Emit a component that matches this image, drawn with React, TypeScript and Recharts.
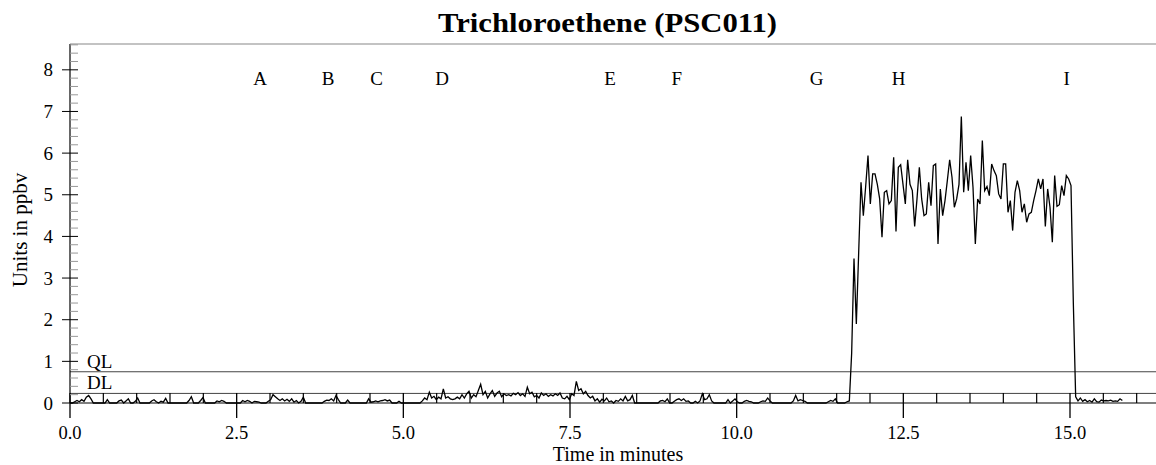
import React from "react";
import { LineChart, Line, XAxis, YAxis, ReferenceLine, ReferenceDot } from "recharts";

const SERIF = '"Liberation Serif", "DejaVu Serif", serif';

// one reading every 0.035 min
const SAMPLE_STEP = 0.035;

// Trichloroethene in ppbv, rows of 20 readings (0.7 min per row)
const baselineReadings: number[] = [
  0, 0, 0.03, 0.06, 0.03, 0.08, 0.04, 0.14, 0.18, 0.1, 0, 0, 0, 0, 0, 0, 0.08, 0, 0, 0,
  0, 0.05, 0.07, 0, 0.05, 0.1, 0, 0, 0.04, 0.12, 0, 0, 0, 0, 0, 0.05, 0.08, 0.03, 0, 0.04,
  0.02, 0.11, 0, 0, 0, 0, 0, 0, 0, 0, 0, 0.06, 0.15, 0, 0, 0, 0.06, 0.13, 0, 0,
  0, 0, 0, 0.05, 0.03, 0.06, 0.04, 0, 0, 0, 0, 0, 0, 0, 0.06, 0.03, 0.06, 0.04, 0, 0.04,
  0.03, 0.02, 0, 0, 0, 0.04, 0.08, 0.2, 0.15, 0.1, 0.06, 0.1, 0.05, 0.09, 0.04, 0.1, 0.02, 0.06, 0, 0.04,
  0.14, 0, 0, 0, 0, 0, 0, 0, 0, 0.04, 0.07, 0.06, 0.1, 0.05, 0.18, 0.08, 0, 0, 0, 0.07,
  0, 0, 0, 0, 0, 0, 0, 0, 0.1, 0.02, 0.03, 0.05, 0.03, 0.05, 0.06, 0.08, 0.05, 0.07, 0, 0,
  0, 0.04, 0, 0, 0, 0, 0, 0, 0, 0, 0, 0.05, 0.12, 0.08, 0.26, 0.12, 0.16, 0.08, 0.14, 0.1,
  0.34, 0.12, 0.15, 0.1, 0.08, 0.1, 0.14, 0.1, 0.2, 0.12, 0.22, 0.28, 0.12, 0.2, 0.15, 0.3, 0.45, 0.2, 0.28, 0.12,
  0.22, 0.3, 0.16, 0.24, 0.28, 0.15, 0.22, 0.18, 0.2, 0.17, 0.23, 0.2, 0.25, 0.18, 0.22, 0.16, 0.38, 0.22, 0.26, 0.15,
  0.18, 0.12, 0.24, 0.18, 0.22, 0.16, 0.2, 0.17, 0.22, 0.18, 0.24, 0.12, 0.1, 0.16, 0.08, 0.22, 0.18, 0.52, 0.3, 0.34,
  0.22, 0.28, 0.18, 0.12, 0.16, 0.05, 0.1, 0.02, 0.09, 0.05, 0.12, 0.03, 0.05, 0, 0.06, 0.04, 0.1, 0.05, 0.16, 0.05,
  0.08, 0.18, 0, 0, 0, 0, 0, 0, 0, 0, 0, 0, 0, 0.05, 0.06, 0.03, 0.1, 0, 0, 0.04,
  0.08, 0.1, 0.06, 0.1, 0.04, 0.05, 0, 0, 0.04, 0, 0.05, 0.22, 0.08, 0.1, 0.2, 0.05, 0, 0, 0, 0,
  0, 0, 0.08, 0, 0.05, 0.1, 0.03, 0, 0, 0.04, 0.06, 0.04, 0.03, 0, 0, 0, 0.03, 0.05, 0.04, 0.12,
  0.05, 0, 0, 0, 0, 0, 0, 0, 0, 0, 0.05, 0.18, 0.05, 0.08, 0.06, 0.04, 0, 0, 0, 0,
  0, 0, 0, 0, 0, 0.03, 0.06, 0.04, 0.1, 0, 0, 0, 0, 0.03,
];

// exposure window, starting at 11.69 min
const exposureReadings: number[] = [
  0.05, 1.2, 3.47, 1.9, 3.6, 5.3, 4.5, 5.2, 5.94, 4.78, 5.5, 5.5, 5.25, 4.9, 3.98, 5.06,
  5.1, 4.78, 4.86, 5.9, 4.12, 5.66, 5.72, 5.25, 4.78, 5.84, 5.25, 5.1, 4.24, 4.9, 5.66, 4.9,
  4.5, 4.54, 5.3, 4.74, 5.7, 5.74, 3.82, 5.14, 4.5, 4.86, 5.34, 5.84, 5.42, 4.7, 4.9, 5.25,
  6.88, 5.06, 5.78, 5.1, 5.94, 5.18, 3.82, 4.9, 4.78, 6.3, 5.1, 5.2, 4.98, 5.74, 5.58, 5.46,
  5.02, 4.9, 5.74, 5.74, 4.58, 4.86, 4.14, 5.06, 5.34, 5.1, 4.58, 4.78, 4.34, 4.54, 4.58, 4.86,
  5.1, 5.38, 5.14, 5.38, 4.24, 5.14, 4.7, 3.86, 5.46, 4.72, 4.76, 5.22, 4.98, 5.46, 5.38, 5.22,
  2.4, 0.15,
];

const tailReadings: number[] = [
  0.05, 0.12, 0.04, 0.08, 0.03, 0.06, 0.02, 0.1, 0.03, 0.02,
  0.07, 0.05, 0.06, 0.05, 0.07, 0.04, 0.05, 0.04, 0.1, 0.06,
];

const ppbv = [...baselineReadings, ...exposureReadings, ...tailReadings];

const xTicks = [
  0, 0.5, 1, 1.5, 2, 2.5, 3, 3.5, 4, 4.5, 5, 5.5, 6, 6.5, 7, 7.5, 8, 8.5, 9, 9.5, 10,
  10.5, 11, 11.5, 12, 12.5, 13, 13.5, 14, 14.5, 15, 15.5, 16,
];
const yTicks = [
  0, 0.2, 0.4, 0.6, 0.8, 1, 1.2, 1.4, 1.6, 1.8, 2, 2.2, 2.4, 2.6, 2.8, 3, 3.2, 3.4, 3.6, 3.8,
  4, 4.2, 4.4, 4.6, 4.8, 5, 5.2, 5.4, 5.6, 5.8, 6, 6.2, 6.4, 6.6, 6.8, 7, 7.2, 7.4, 7.6, 7.8,
  8, 8.2, 8.4, 8.6,
];
const X_MAX = 16.29;
const Y_MAX = 8.62;

const markerLabels = ["A", "B", "C", "D", "E", "F", "G", "H", "I"];
const markerTimes = [2.85, 3.87, 4.6, 5.58, 8.1, 9.1, 11.2, 12.43, 14.95];
const MARKER_LEVEL = 7.8;

const limitNames = ["QL", "DL"];
const limitValues = [0.75, 0.23];

const readings = ppbv.map((v, i) => ({ t: +(i * SAMPLE_STEP).toFixed(3), v }));

function XTick(props: any) {
  const { x, y, payload } = props;
  const v = payload.value;
  const major = Math.abs(v / 2.5 - Math.round(v / 2.5)) < 1e-6;
  if (!major) {
    return <line x1={x} x2={x} y1={y - 10} y2={y} stroke="#000" strokeWidth={1.2} />;
  }
  return (
    <g>
      <line x1={x} x2={x} y1={y - 10} y2={y + 15} stroke="#000" strokeWidth={1.3} />
      <text x={x} y={y + 36} textAnchor="middle" fontSize={18.5} fontFamily={SERIF} fill="#000">
        {v.toFixed(1)}
      </text>
    </g>
  );
}

function YTick(props: any) {
  const { x, y, payload } = props;
  const v = payload.value;
  const major = Math.abs(v - Math.round(v)) < 1e-6;
  if (!major) {
    return <line x1={x} x2={x + 8} y1={y} y2={y} stroke="#999" />;
  }
  return (
    <g>
      <line x1={x - 8} x2={x + 8} y1={y} y2={y} stroke="#000" />
      <text x={x - 17} y={y + 6.5} textAnchor="end" fontSize={19} fontFamily={SERIF} fill="#000">
        {Math.round(v)}
      </text>
    </g>
  );
}

export default function App() {
  return (
    <div style={{ position: "absolute", left: 0, top: 0, width: 1156, height: 465, background: "#fff" }}>
      <LineChart width={1156} height={465} data={readings} margin={{ top: 44, right: 0, bottom: 0, left: 0 }}>
        <XAxis
          type="number"
          dataKey="t"
          domain={[0, X_MAX]}
          ticks={xTicks}
          interval={0}
          height={62}
          tickSize={0}
          tickMargin={0}
          tickLine={false}
          axisLine={{ stroke: "#000", strokeWidth: 1.2 }}
          tick={(p: any) => <XTick {...p} />}
          label={(p: any) => (
            <text
              x={p.viewBox.x + p.viewBox.width / 2 + 5}
              y={p.viewBox.y + 58}
              textAnchor="middle"
              fontSize={20}
              fontFamily={SERIF}
              fill="#000"
            >
              Time in minutes
            </text>
          )}
        />
        <YAxis
          type="number"
          domain={[0, Y_MAX]}
          ticks={yTicks}
          interval={0}
          width={70}
          tickSize={0}
          tickMargin={0}
          tickLine={false}
          axisLine={{ stroke: "#000", strokeWidth: 1.2 }}
          tick={(p: any) => <YTick {...p} />}
          label={() => (
            <text
              x={27}
              y={230}
              transform="rotate(-90 27 230)"
              textAnchor="middle"
              fontSize={21}
              fontFamily={SERIF}
              fill="#000"
            >
              Units in ppbv
            </text>
          )}
        />
        <ReferenceLine y={Y_MAX} stroke="#888" strokeWidth={1.2} />
        {limitNames.map((name, i) => (
          <ReferenceLine
            key={name}
            y={limitValues[i]}
            stroke="#444"
            label={(p: any) => (
              <text x={p.viewBox.x + 17} y={p.viewBox.y - 4} fontSize={19} fontFamily={SERIF} fill="#000">
                {name}
              </text>
            )}
          />
        ))}
        {markerLabels.map((m, i) => (
          <ReferenceDot
            key={m}
            x={markerTimes[i]}
            y={MARKER_LEVEL}
            r={0}
            stroke="none"
            fill="none"
            label={{ value: m, position: "center", fill: "#000", fontSize: 19, fontFamily: SERIF }}
          />
        ))}
        <Line
          type="linear"
          dataKey="v"
          stroke="#000"
          strokeWidth={1.3}
          dot={false}
          isAnimationActive={false}
        />
      </LineChart>
      <svg width={1156} height={44} style={{ position: "absolute", left: 0, top: 0 }}>
        <text
          x={607.5}
          y={32}
          textAnchor="middle"
          fontSize={27}
          fontWeight="bold"
          fontFamily={SERIF}
          fill="#000"
          textLength={339}
          lengthAdjust="spacingAndGlyphs"
        >
          Trichloroethene (PSC011)
        </text>
      </svg>
    </div>
  );
}
